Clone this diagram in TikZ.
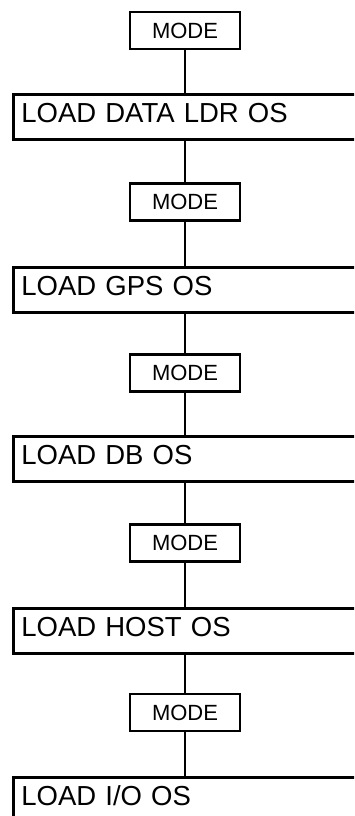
\documentclass[tikz,border=0pt]{standalone}
\usepackage{fontspec}
\setmainfont{Liberation Sans}
\begin{document}
\begin{tikzpicture}[x=1pt,y=1pt,
  modebox/.style={draw, line width=2.7pt, minimum width=110pt, minimum height=37pt,
    inner sep=0pt, font=\fontsize{22}{22}\selectfont},
  loadbox/.style={draw, line width=2.7pt, anchor=north west, inner xsep=8pt, inner ysep=0pt,
    text width=344pt, align=left, text height=28pt, text depth=17pt,
    font=\fontsize{27.5}{27.5}\selectfont},
  link/.style={line width=2.7pt}]
\useasboundingbox (0,0) rectangle (354,-816);
\clip (0,0) rectangle (354,-816);
\node[modebox] (m1) at (185,-30.5) {MODE};
\node[loadbox] (b1) at (12,-93) {LOAD DATA LDR OS};
\node[modebox] (m2) at (185,-202) {MODE};
\node[loadbox] (b2) at (12,-266) {LOAD GPS OS};
\node[modebox] (m3) at (185,-373) {MODE};
\node[loadbox] (b3) at (12,-435) {LOAD DB OS};
\node[modebox] (m4) at (185,-543) {MODE};
\node[loadbox] (b4) at (12,-607) {LOAD HOST OS};
\node[modebox] (m5) at (185,-712.5) {MODE};
\node[loadbox] (b5) at (12,-776) {LOAD I/O OS};
\draw[link] (m1.south) -- (m1.south |- b1.north);
\draw[link] (m2.north |- b1.south) -- (m2.north);
\draw[link] (m2.south) -- (m2.south |- b2.north);
\draw[link] (m3.north |- b2.south) -- (m3.north);
\draw[link] (m3.south) -- (m3.south |- b3.north);
\draw[link] (m4.north |- b3.south) -- (m4.north);
\draw[link] (m4.south) -- (m4.south |- b4.north);
\draw[link] (m5.north |- b4.south) -- (m5.north);
\draw[link] (m5.south) -- (m5.south |- b5.north);
\end{tikzpicture}
\end{document}
